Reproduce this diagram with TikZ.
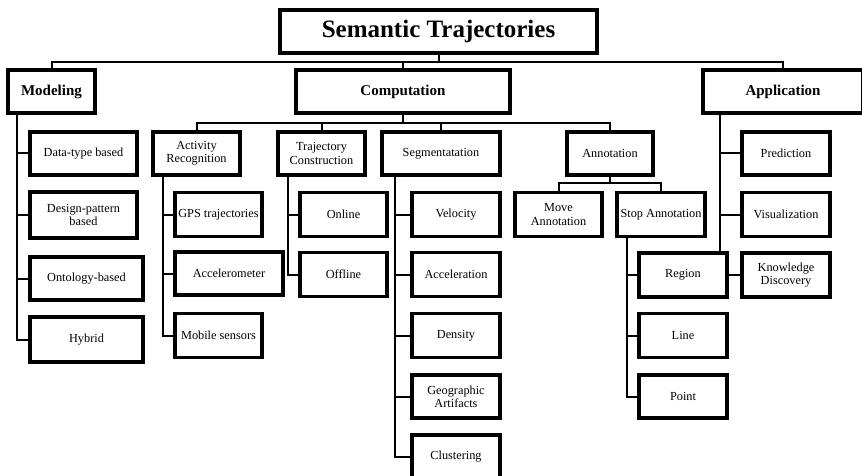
\documentclass[tikz,border=0pt]{standalone}
\usepackage{fontspec}
\setmainfont{Liberation Serif}
\tikzset{
  box/.style={draw, line width=3.2pt, align=center, inner sep=1pt,
    minimum width=87, minimum height=44, font=\fontsize{12.3}{13.2}\selectfont},
  headbox/.style={box, font=\fontsize{15}{16}\selectfont\bfseries},
  link/.style={line width=2pt}
}
\begin{document}
\begin{tikzpicture}[x=1pt, y=-1pt]
\clip (0,0) rectangle (862,476);
\fill[white] (0,0) rectangle (862,476);

% root and first level
\node[headbox, line width=4pt, minimum width=317, minimum height=43, font=\fontsize{25}{26}\selectfont\bfseries] (title) at (438.5,31.5) {Semantic Trajectories};
\node[headbox, minimum height=43] (modeling) at (51.5,91.5) {Modeling};
\node[headbox, minimum width=214, minimum height=43] (computation) at (403,91.5) {Computation};
\node[headbox, minimum width=160, minimum height=43] (application) at (783,91.5) {Application};

% modeling
\node[box, minimum width=107, minimum height=43] (dtype) at (83.5,153.5) {Data-type based};
\node[box, minimum width=107, minimum height=46] (dpattern) at (83.5,215) {Design-pattern\\based};
\node[box, minimum width=113, minimum height=43] (onto) at (86.5,278.5) {Ontology-based};
\node[box, minimum width=113, minimum height=45] (hybrid) at (86.5,339.5) {Hybrid};

% computation
\node[box, minimum height=43] (activity) at (196.5,153.5) {Activity\\Recognition};
\node[box, minimum height=43] (trajcons) at (321.5,153.5) {Trajectory\\Construction};
\node[box, minimum width=118, minimum height=43] (segment) at (441,153.5) {Segmentatation};
\node[box, minimum width=86, minimum height=43] (annot) at (610,153.5) {Annotation};

\node[box] (gps) at (218.5,214.5) {GPS trajectories};
\node[box, minimum width=108, minimum height=43] (accel) at (229,273.5) {Accelerometer};
\node[box] (mobile) at (218.5,335.5) {Mobile sensors};

\node[box] (online) at (343.5,214.5) {Online};
\node[box] (offline) at (343.5,274.5) {Offline};

\node[box, minimum width=88] (velocity) at (456,214.5) {Velocity};
\node[box, minimum width=88] (acceleration) at (456,274.5) {Acceleration};
\node[box, minimum width=88] (density) at (456,335.5) {Density};
\node[box, minimum width=88, minimum height=43] (geo) at (456,396.5) {Geographic\\Artifacts};
\node[box, minimum width=88] (clustering) at (456,457) {Clustering};

\node[box] (move) at (558.5,214.5) {Move\\Annotation};
\node[box, minimum width=88] (stop) at (661,214.5) {Stop Annotation};
\node[box, minimum width=88] (region) at (683,275) {Region};
\node[box, minimum width=88] (line) at (683,335.5) {Line};
\node[box, minimum width=88, minimum height=43] (point) at (683,396.5) {Point};

% application
\node[box, minimum width=88, minimum height=43] (predict) at (786,153.5) {Prediction};
\node[box, minimum width=88] (visual) at (786,214.5) {Visualization};
\node[box, minimum width=88] (know) at (786,275) {Knowledge\\Discovery};

% bars and stems
\coordinate (topbar) at (0,62);
\coordinate (compbar) at (0,123);
\coordinate (annbar) at (0,183);
\coordinate (mstem) at (17,0);
\coordinate (actstem) at (163,0);
\coordinate (trajstem) at (288,0);
\coordinate (segstem) at (395,0);
\coordinate (stopstem) at (627,0);
\coordinate (appstem) at (720,0);

\draw[link] (title.south) -- (title.south |- topbar);
\draw[link] (modeling.north) -- (modeling.north |- topbar) -- (application.north |- topbar) -- (application.north);
\draw[link] (computation.north) -- (computation.north |- topbar);

\draw[link] (computation.south) -- (computation.south |- compbar);
\draw[link] (activity.north) -- (activity.north |- compbar) -- (annot.north |- compbar) -- (annot.north);
\draw[link] (trajcons.north) -- (trajcons.north |- compbar);
\draw[link] (segment.north) -- (segment.north |- compbar);

\draw[link] (annot.south) -- (annot.south |- annbar);
\draw[link] (move.north) -- (move.north |- annbar) -- (stop.north |- annbar) -- (stop.north);

\draw[link] (modeling.south -| mstem) |- (hybrid.west);
\foreach \n in {dtype,dpattern,onto}
  \draw[link] (\n.west) -- (\n.west -| mstem);

\draw[link] (activity.south -| actstem) |- (mobile.west);
\foreach \n in {gps,accel}
  \draw[link] (\n.west) -- (\n.west -| actstem);

\draw[link] (trajcons.south -| trajstem) |- (offline.west);
\draw[link] (online.west) -- (online.west -| trajstem);

\draw[link] (segment.south -| segstem) |- (clustering.west);
\foreach \n in {velocity,acceleration,density,geo}
  \draw[link] (\n.west) -- (\n.west -| segstem);

\draw[link] (stop.south -| stopstem) |- (point.west);
\foreach \n in {region,line}
  \draw[link] (\n.west) -- (\n.west -| stopstem);

\draw[link] (application.south -| appstem) -- (region.north -| appstem);
\foreach \n in {predict,visual}
  \draw[link] (\n.west) -- (\n.west -| appstem);
\draw[link] (region.east) -- (know.west);

\end{tikzpicture}
\end{document}
